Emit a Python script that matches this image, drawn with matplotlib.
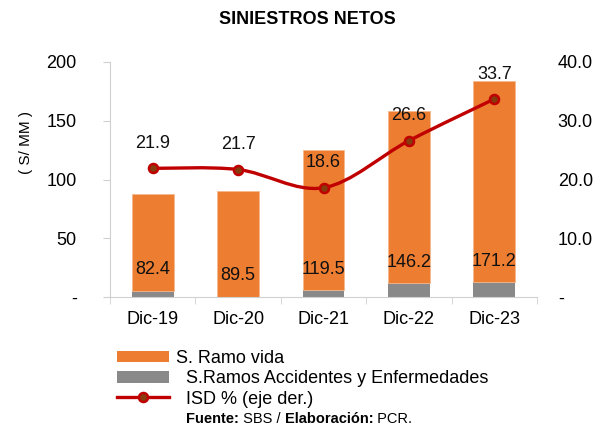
import matplotlib
matplotlib.use("Agg")
import matplotlib.pyplot as plt
from matplotlib.path import Path
from matplotlib.patches import PathPatch
from matplotlib.lines import Line2D
from matplotlib.patches import Patch
import numpy as np

plt.rcParams['font.family'] = ['Liberation Sans', 'DejaVu Sans']

categories = ["Dic-19", "Dic-20", "Dic-21", "Dic-22", "Dic-23"]
vida = [82.4, 89.5, 119.5, 146.2, 171.2]
accidentes = [5.4, 0.3, 6.0, 11.7, 12.5]
isd = [21.9, 21.7, 18.6, 26.6, 33.7]
left_ticks = [0, 50, 100, 150, 200]
left_labels = ["-", "50", "100", "150", "200"]
right_ticks = [0, 10, 20, 30, 40]
right_labels = ["-", "10.0", "20.0", "30.0", "40.0"]

ORANGE = "#ED7D31"
GRAY = "#898989"
RED = "#C00000"
BROWN = "#843C0C"
SPINE = "#D0D0D0"
FS = 13

W, H = 596, 425
fig = plt.figure(figsize=(W / 100, H / 100), dpi=100)
ax = fig.add_axes([110 / W, 1 - 297 / H, (537 - 110) / W, (297 - 62) / H])
ax2 = ax.twinx()

x = np.arange(len(categories))
bw = 0.49
ax.bar(x, accidentes, width=bw, color=GRAY, zorder=2)
ax.bar(x, vida, width=bw, bottom=accidentes, color=ORANGE, zorder=2,
       edgecolor="#F6B98F", linewidth=0.6)

for i in range(len(categories)):
    ax.annotate(f"{vida[i]:.1f}", xy=(x[i], accidentes[i]), xytext=(0, 15),
                textcoords="offset points", ha="center", va="center",
                fontsize=FS, color="#111111", zorder=5)

ax.set_xlim(-0.5, len(categories) - 0.5)
ax.set_ylim(0, 200)
ax2.set_ylim(0, 40)

# smooth line (Bezier through points)
pts = np.column_stack([x, isd]).astype(float)
verts = [tuple(pts[0])]
codes = [Path.MOVETO]
n = len(pts)
for i in range(n - 1):
    p_prev = pts[i - 1] if i > 0 else pts[i]
    p0 = pts[i]
    p1 = pts[i + 1]
    p_next = pts[i + 2] if i + 2 < n else pts[i + 1]
    c1 = p0 + (p1 - p_prev) / 6.0
    c2 = p1 - (p_next - p0) / 6.0
    verts += [tuple(c1), tuple(c2), tuple(p1)]
    codes += [Path.CURVE4, Path.CURVE4, Path.CURVE4]
ax2.add_patch(PathPatch(Path(verts, codes), facecolor="none", edgecolor=RED,
                        linewidth=2.4, zorder=3, capstyle="round"))
ax2.plot(x, isd, linestyle="none", marker="o", markersize=6.5,
         markerfacecolor=BROWN, markeredgecolor=RED, markeredgewidth=1.8, zorder=4)
for i in range(n):
    ax2.annotate(f"{isd[i]:.1f}", xy=(x[i], isd[i]), xytext=(0, 18),
                 textcoords="offset points", ha="center", va="center",
                 fontsize=FS, color="#111111", zorder=5)

# axes styling
for s in ["top", "right"]:
    ax.spines[s].set_visible(False)
    ax2.spines[s].set_visible(False)
ax2.spines["left"].set_visible(False)
ax2.spines["bottom"].set_visible(False)
ax.spines["left"].set_color(SPINE)
ax.spines["bottom"].set_color(SPINE)

ax.set_yticks(left_ticks)
ax.set_yticklabels(left_labels, fontsize=FS)
ax.tick_params(axis="y", direction="out", length=5, color=SPINE, pad=19)
ax2.set_yticks(right_ticks)
ax2.set_yticklabels(right_labels, fontsize=FS)
ax2.tick_params(axis="y", length=0, pad=15)

ax.set_xticks(x)
ax.set_xticklabels(categories, fontsize=FS)
ax.set_xticks(np.arange(-0.5, len(categories), 1.0), minor=True)
ax.tick_params(axis="x", which="major", length=0, pad=10)
ax.tick_params(axis="x", which="minor", length=5, color=SPINE, direction="out")

fig.text(26 / W, 1 - 143 / H, "( S/ MM )", rotation=90, ha="center", va="center",
         fontsize=11)
fig.text(307 / W, 1 - 19 / H, "SINIESTROS NETOS", ha="center", va="center",
         fontsize=13, fontweight="bold")

handles = [Patch(facecolor=ORANGE, edgecolor="none"),
           Patch(facecolor=GRAY, edgecolor="none"),
           Line2D([0], [0], color=RED, linewidth=2.4, marker="o", markersize=6.5,
                  markerfacecolor=BROWN, markeredgecolor=RED, markeredgewidth=1.8)]
labels = ["S. Ramo vida", "  S.Ramos Accidentes y Enfermedades", "  ISD % (eje der.)"]
fig.legend(handles, labels, loc="upper left", bbox_to_anchor=(117 / W, 1 - 350 / H),
           frameon=False, fontsize=FS, borderpad=0, borderaxespad=0,
           handlelength=2.9, handleheight=0.6, handletextpad=0.35, labelspacing=0.18)

FY = 1 - 419 / H
t1 = fig.text(186 / W, FY, "Fuente:", fontsize=10.5, fontweight="bold",
              ha="left", va="center")
t2 = fig.text(0, 0, " SBS / ", fontsize=10.5, ha="left", va="center")
t3 = fig.text(0, 0, "Elaboración:", fontsize=10.5, fontweight="bold", ha="left", va="center")
t4 = fig.text(0, 0, " PCR.", fontsize=10.5, ha="left", va="center")
fig.canvas.draw()
r = fig.canvas.get_renderer()
prev = t1
for t in [t2, t3, t4]:
    bb = prev.get_window_extent(r)
    t.set_position((bb.x1 / W, FY))
    fig.canvas.draw()
    prev = t

fig.savefig("out.png", dpi=100)
